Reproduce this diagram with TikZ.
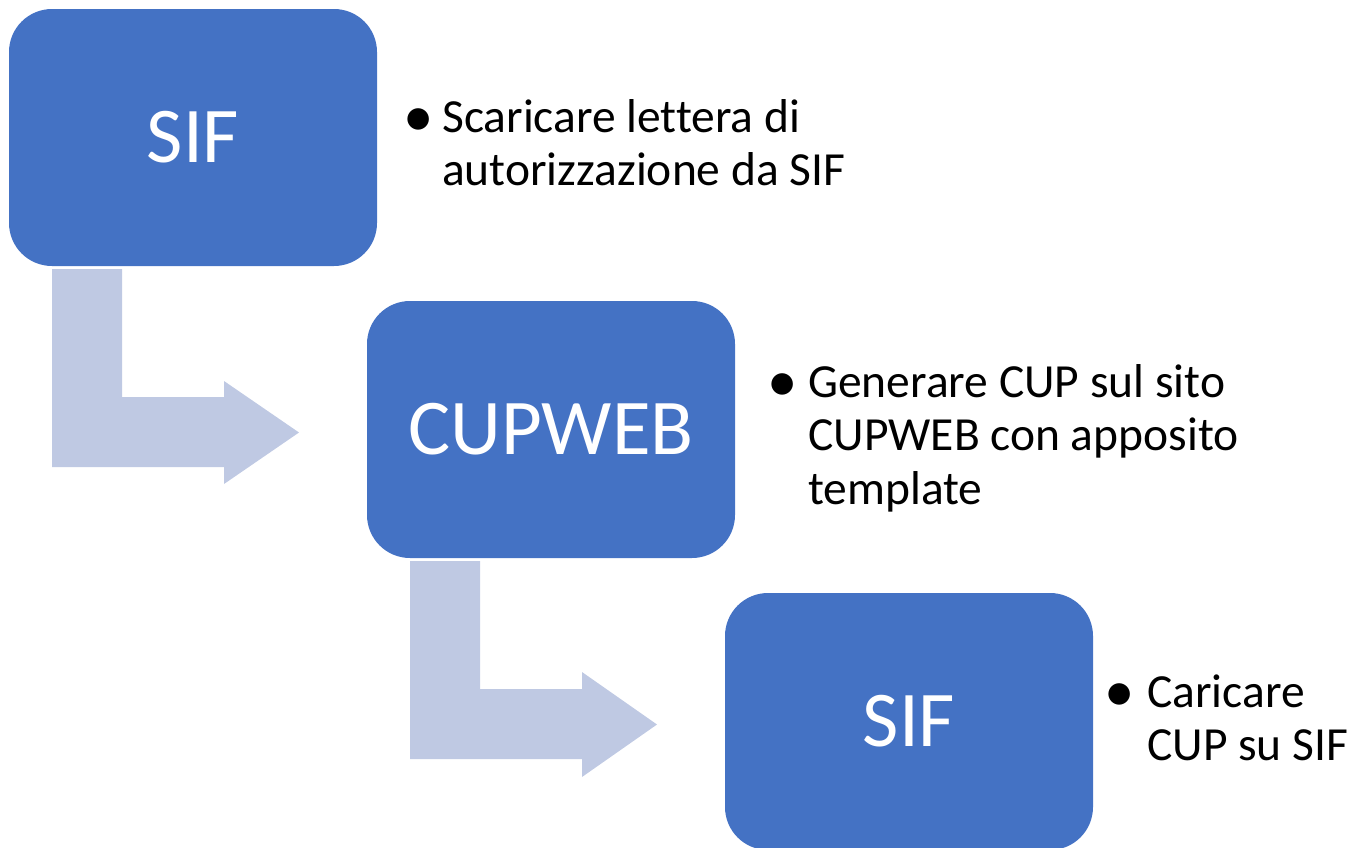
\documentclass[tikz,border=0pt]{standalone}
\usepackage{fontspec}
\setmainfont{Carlito}[Ligatures=CommonOff]
\definecolor{boxblue}{HTML}{4472C4}
\definecolor{arrowblue}{HTML}{BFC9E3}
\tikzset{
  stepbox/.style={draw=none, fill=boxblue, rounded corners=43pt, minimum width=368pt, minimum height=257pt, inner sep=0pt, text=white, font=\fontsize{79}{90}\selectfont},
  bulletdot/.style={anchor=base, inner sep=0pt, font=\fontsize{47.5}{53.5}\selectfont},
  bullettext/.style={anchor=base west, inner sep=0pt, font=\fontsize{47.5}{53.5}\selectfont}
}
\newcommand{\bigbul}{\raisebox{-4pt}{\scalebox{1.28}{•}}}
\begin{document}
\begin{tikzpicture}[x=1pt, y=-1pt]
\useasboundingbox (0,0) rectangle (1352,847);
% bent arrows (behind)
\fill[arrowblue] (52,269) -- (122,269) -- (122,397) -- (224,397) -- (224,381) -- (299,432.5) -- (224,484) -- (224,467) -- (52,467) -- cycle;
\fill[arrowblue] (410,561) -- (480,561) -- (480,689) -- (582,689) -- (582,672) -- (657,724.5) -- (582,777) -- (582,759) -- (410,759) -- cycle;
% boxes
\node[stepbox] (s1) at (193,137.5) {SIF};
\node[stepbox] (s2) at (551,429.5) {CUPWEB};
\node[stepbox] (s3) at (909,721.5) {SIF};
% bullet texts
\node[bulletdot] (b1) at (419,132) {\bigbul};
\node[bullettext] (t1) at (442,132) {\begin{tabular}[t]{@{}l@{}}Scaricare lettera di\\autorizzazione da SIF\end{tabular}};
\node[bulletdot] (b2) at (783,397) {\bigbul};
\node[bullettext] (t2) at (808,397) {\begin{tabular}[t]{@{}l@{}}Generare CUP sul sito\\CUPWEB con apposito\\template\end{tabular}};
\node[bulletdot] (b3) at (1120,707) {\bigbul};
\node[bullettext] (t3) at (1147,707) {\begin{tabular}[t]{@{}l@{}}Caricare\\CUP su SIF\end{tabular}};
\end{tikzpicture}
\end{document}
